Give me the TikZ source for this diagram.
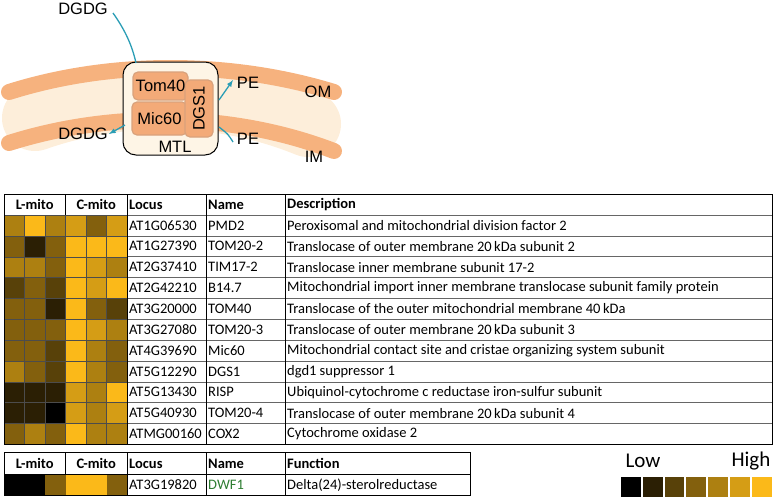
\documentclass[tikz,border=0pt]{standalone}
\usepackage{fontspec}
\setmainfont{Carlito}
\newfontfamily\arialf{Liberation Sans}
\definecolor{hy}{HTML}{FBB919}
\colorlet{hc0}{black}
\colorlet{hc1}{hy!17!black}
\colorlet{hc2}{hy!35!black}
\colorlet{hc3}{hy!52!black}
\colorlet{hc4}{hy!69!black}
\colorlet{hc5}{hy!85!black}
\colorlet{hc6}{hy}
\definecolor{memb}{HTML}{F6B27E}
\definecolor{cream}{HTML}{FDEEDA}
\definecolor{boxf}{HTML}{FEF5E6}
\definecolor{protf}{HTML}{F3AA78}
\definecolor{protd}{HTML}{D9A27C}
\definecolor{teal}{HTML}{2A9DB5}
\definecolor{dgreen}{HTML}{2E7D32}
\begin{document}
\begin{tikzpicture}[x=1pt,y=-1pt,
  lab/.style={font=\arialf\fontsize{16.5}{17}\selectfont,inner sep=0pt},
  prot/.style={draw=protd,line width=1.2pt,fill=protf,rounded corners=5pt},
  tx/.style={font=\fontsize{14.5}{15}\selectfont,anchor=west,inner sep=0pt},
  hd/.style={font=\bfseries\fontsize{14.5}{15}\selectfont,inner sep=0pt},
  arr/.style={teal,line width=1.3pt}]
\useasboundingbox (0,0) rectangle (777,501);
% membranes
\draw[cream,line width=66pt,line cap=round] (35,118) .. controls (120,88) and (220,88) .. (308,124);
\draw[memb,line width=16pt,line cap=round] (9,92) .. controls (110,60) and (230,60) .. (334,92);
\draw[memb,line width=16pt,line cap=round] (9,143) .. controls (110,111) and (230,111) .. (334,151);
% MTL
\node[draw=black,line width=1pt,fill=boxf,rounded corners=13pt,minimum width=95pt,minimum height=93pt,inner sep=0pt] (mtl) at (170.5,108.5) {};
\node[prot,minimum width=55pt,minimum height=28pt,inner sep=0pt] (tom) at (160.5,86) {};
\node[prot,minimum width=55pt,minimum height=33pt,inner sep=0pt] (mic) at (159.5,118.5) {};
\node[prot,minimum width=28pt,minimum height=57pt,inner sep=0pt] (dgs) at (199,108.5) {};
\node[lab] at (tom) {Tom40};
\node[lab] at (mic) {Mic60};
\node[lab,rotate=90] at (dgs) {DGS1};
\node[lab] (mtll) at (175,147) {MTL};
\node[lab] (dg1) at (83,9) {DGDG};
\node[lab] (dg2) at (83,134) {DGDG};
\node[lab] (pe1) at (248,83) {PE};
\node[lab] (pe2) at (248,139) {PE};
\node[lab] (om) at (318,92) {OM};
\node[lab] (im) at (314,157) {IM};
\coordinate (a1) at (113,13); \coordinate (a2) at (136,63);
\draw[arr] (a1) .. controls (125,30) and (132,45) .. (a2);
\coordinate (b1) at (125,125); \coordinate (b2) at (109,134);
\draw[arr,-latex] (b1) -- (b2);
\coordinate (c1) at (219,100); \coordinate (c2) at (233,80);
\draw[arr,-latex] (c1) -- (c2);
\coordinate (d1) at (233,142); \coordinate (d2) at (219,127);
\draw[arr] (d1) .. controls (228,134) .. (d2);
% table 1
\foreach \loc/\nm/\desc/\a/\b/\c/\d/\e/\f [count=\i] in {
AT1G06530/PMD2/Peroxisomal and mitochondrial division factor 2/4/6/4/5/3/5,
AT1G27390/TOM20-2/Translocase of outer membrane 20\,kDa subunit 2/3/1/3/6/6/6,
AT2G37410/TIM17-2/Translocase inner membrane subunit 17-2/4/4/3/6/5/4,
AT2G42210/B14.7/Mitochondrial import inner membrane translocase subunit family protein/2/3/2/6/5/6,
AT3G20000/TOM40/Translocase of the outer mitochondrial membrane 40\,kDa/3/3/1/6/3/2,
AT3G27080/TOM20-3/Translocase of outer membrane 20\,kDa subunit 3/3/3/3/6/5/4,
AT4G39690/Mic60/Mitochondrial contact site and cristae organizing system subunit/3/3/2/6/4/3,
AT5G12290/DGS1/dgd1 suppressor 1/4/3/2/6/4/3,
AT5G13430/RISP/Ubiquinol-cytochrome c reductase iron-sulfur subunit/1/1/1/5/4/6,
AT5G40930/TOM20-4/Translocase of outer membrane 20\,kDa subunit 4/1/1/0/5/4/5,
ATMG00160/COX2/Cytochrome oxidase 2/3/4/3/6/4/4}{
  \pgfmathsetmacro{\yt}{215+(\i-1)*20.85}
  \pgfmathsetmacro{\yc}{\yt+10.4}
  \foreach \v [count=\j] in {\a,\b,\c,\d,\e,\f}{
    \pgfmathsetmacro{\xl}{4+(\j-1)*20.5}
    \fill[hc\v,draw=black!70,line width=0.4pt] (\xl,\yt) rectangle ++(20.5,20.85);
  }
  \draw[black!60,line width=0.5pt] (127,\yt) -- (772,\yt);
  \node[tx] (l\i) at (129,\yc) {\loc};
  \node[tx] (n\i) at (208,\yc) {\nm};
  \node[tx] (d\i) at (287,\yc) {\desc};
}
\draw[line width=1pt] (4,194) rectangle (772,444.5);
\draw[line width=0.8pt] (65.5,194) -- (65.5,215);
\foreach \x in {127,206,285} \draw[line width=0.8pt] (\x,194) -- (\x,444.5);
\node[hd] (h1) at (34.75,204.5) {L-mito};
\node[hd] (h2) at (96.25,204.5) {C-mito};
\node[hd,anchor=west] (h3) at (129,204.5) {Locus};
\node[hd,anchor=west] (h4) at (208,204.5) {Name};
\node[hd,anchor=west] (h5) at (287,204.5) {Description};
% table 2
\foreach \v [count=\j] in {0,0,3,6,6,3}{
  \pgfmathsetmacro{\xl}{4+(\j-1)*20.5}
  \fill[hc\v] (\xl,474) rectangle ++(20.5,21);
}
\draw[line width=1pt] (4,452) rectangle (470,495);
\draw[line width=0.8pt] (4,474) -- (470,474);
\draw[line width=0.8pt] (65.5,452) -- (65.5,474);
\foreach \x in {127,206,285} \draw[line width=0.8pt] (\x,452) -- (\x,495);
\node[hd] (g1) at (34.75,463.5) {L-mito};
\node[hd] (g2) at (96.25,463.5) {C-mito};
\node[hd,anchor=west] (g3) at (129,463.5) {Locus};
\node[hd,anchor=west] (g4) at (208,463.5) {Name};
\node[hd,anchor=west] (g5) at (287,463.5) {Function};
\node[tx] (gl) at (129,485) {AT3G19820};
\node[tx,text=dgreen] (gn) at (208,485) {DWF1};
\node[tx] (gf) at (287,485) {Delta(24)-sterolreductase};
% legend
\node[font=\fontsize{21}{21}\selectfont,inner sep=0pt] (low) at (643,461) {Low};
\node[font=\fontsize{21}{21}\selectfont,inner sep=0pt] (high) at (751,461) {High};
\foreach \k in {0,...,6}{
  \fill[hc\k] (621+\k*21.8,477) rectangle ++(19.8,20);
}
\end{tikzpicture}
\end{document}
